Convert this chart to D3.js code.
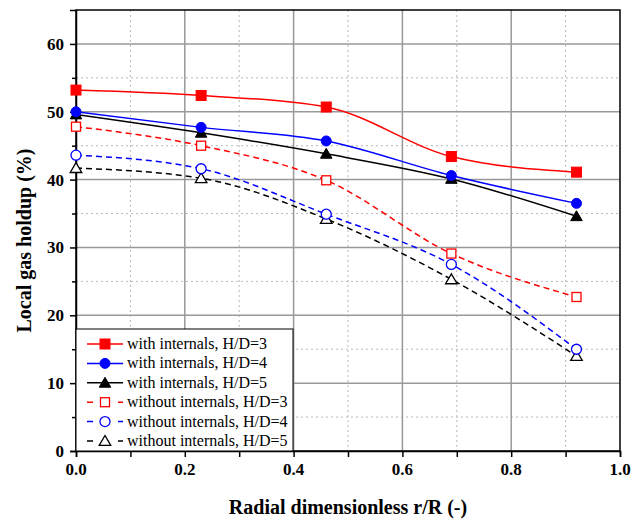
<!DOCTYPE html>
<html>
<head>
<meta charset="utf-8">
<script src="https://cdn.jsdelivr.net/npm/d3@7"></script>
<style>
  body { margin: 0; background: #fff; }
</style>
</head>
<body>
<svg id="chart" width="632" height="521"></svg>
<script>
// radial positions
const radial = [0, 0.23, 0.46, 0.69, 0.92];

// local gas holdup (%) per case
const withHD3 = [53.2, 52.4, 50.7, 43.4, 41.1];
const withHD4 = [50.0, 47.7, 45.7, 40.6, 36.5];
const withHD5 = [49.6, 46.9, 43.8, 40.1, 34.6];
const withoutHD3 = [47.8, 45.0, 39.9, 29.1, 22.7];
const withoutHD4 = [43.6, 41.6, 34.9, 27.5, 15.0];
const withoutHD5 = [41.7, 40.2, 34.2, 25.3, 14.0];

const seriesNames = [
  "with internals, H/D=3",
  "with internals, H/D=4",
  "with internals, H/D=5",
  "without internals, H/D=3",
  "without internals, H/D=4",
  "without internals, H/D=5"
];

const xTicks = [0, 0.2, 0.4, 0.6, 0.8, 1.0];
const yTicks = [0, 10, 20, 30, 40, 50, 60];

const series = [
  { name: seriesNames[0], values: withHD3, color: "#ff0000", shape: "square", filled: true },
  { name: seriesNames[1], values: withHD4, color: "#0000ff", shape: "circle", filled: true },
  { name: seriesNames[2], values: withHD5, color: "#000000", shape: "triangle", filled: true },
  { name: seriesNames[3], values: withoutHD3, color: "#ff0000", shape: "square", filled: false },
  { name: seriesNames[4], values: withoutHD4, color: "#0000ff", shape: "circle", filled: false },
  { name: seriesNames[5], values: withoutHD5, color: "#000000", shape: "triangle", filled: false }
];

const FONT = "'Liberation Serif', 'Times New Roman', Times, serif";
const svg = d3.select("#chart").attr("font-family", FONT);
const pLeft = 76, pRight = 620, pTop = 10, pBottom = 451;

const x = d3.scaleLinear().domain([0, 1]).range([pLeft, pRight]);
const y = d3.scaleLinear().domain([0, 65]).range([pBottom, pTop]);

// minor grid (dotted)
const g = svg.append("g");
g.selectAll(".vminor").data(d3.range(0.1, 1, 0.2)).enter().append("line")
  .attr("x1", d => x(d)).attr("x2", d => x(d)).attr("y1", pTop).attr("y2", pBottom)
  .attr("stroke", "#b8b8b8").attr("stroke-width", 1).attr("stroke-dasharray", "2,3");
g.selectAll(".hminor").data(d3.range(5, 65, 10)).enter().append("line")
  .attr("x1", pLeft).attr("x2", pRight).attr("y1", d => y(d)).attr("y2", d => y(d))
  .attr("stroke", "#b8b8b8").attr("stroke-width", 1).attr("stroke-dasharray", "2,3");
// major grid
g.selectAll(".vmajor").data(xTicks.slice(1, -1)).enter().append("line")
  .attr("x1", d => x(d)).attr("x2", d => x(d)).attr("y1", pTop).attr("y2", pBottom)
  .attr("stroke", "#999").attr("stroke-width", 1.5);
g.selectAll(".hmajor").data(yTicks.slice(1)).enter().append("line")
  .attr("x1", pLeft).attr("x2", pRight).attr("y1", d => y(d)).attr("y2", d => y(d))
  .attr("stroke", "#999").attr("stroke-width", 1.5);

// frame
svg.append("rect").attr("x", pLeft).attr("y", pTop)
  .attr("width", pRight - pLeft).attr("height", pBottom - pTop)
  .attr("fill", "none").attr("stroke", "#000").attr("stroke-width", 1.5);

// axes
const xAxis = svg.append("g").attr("transform", `translate(0,${pBottom})`)
  .call(d3.axisBottom(x).tickValues(d3.range(0, 1.01, 0.1)).tickSize(6).tickFormat(""));
xAxis.selectAll("path,line").attr("stroke", "#000").attr("stroke-width", 1.5);
svg.append("g").selectAll("text").data(xTicks).enter().append("text")
  .attr("x", d => x(d)).attr("y", pBottom + 24)
  .attr("text-anchor", "middle").attr("font-size", 17).attr("font-weight", "bold")
  .text(d => d3.format(".1f")(d));

const yAxisMajor = svg.append("g").attr("transform", `translate(${pLeft},0)`)
  .call(d3.axisLeft(y).tickValues(yTicks).tickSize(6).tickFormat(d3.format("d")))
  .attr("font-family", FONT).attr("font-size", 17).attr("font-weight", "bold");
yAxisMajor.selectAll("path,line").attr("stroke", "#000").attr("stroke-width", 1.5);
yAxisMajor.selectAll("text").attr("fill", "#000").attr("x", -12);
const yAxisMinor = svg.append("g").attr("transform", `translate(${pLeft},0)`)
  .call(d3.axisLeft(y).tickValues(d3.range(5, 65, 10)).tickSize(4).tickFormat(""));
yAxisMinor.selectAll("line").attr("stroke", "#000").attr("stroke-width", 1.5);
yAxisMinor.select("path").remove();

// axis titles
svg.append("text").attr("x", (pLeft + pRight) / 2).attr("y", 514)
  .attr("text-anchor", "middle").attr("font-size", 20).attr("font-weight", "bold")
  .text("Radial dimensionless r/R (-)");
svg.append("text").attr("transform", `translate(31,${(pTop + pBottom) / 2 + 10}) rotate(-90)`)
  .attr("text-anchor", "middle").attr("font-size", 20).attr("font-weight", "bold")
  .text("Local gas holdup (%)");

function drawMarker(sel, s, cx, cy) {
  const fill = s.filled ? s.color : "#fff";
  const sw = s.filled ? 1 : 1.3;
  if (s.shape === "square") {
    const a = s.filled ? 10 : 9;
    sel.append("rect").attr("x", cx - a / 2).attr("y", cy - a / 2).attr("width", a).attr("height", a)
      .attr("fill", fill).attr("stroke", s.color).attr("stroke-width", sw);
  } else if (s.shape === "circle") {
    sel.append("circle").attr("cx", cx).attr("cy", cy).attr("r", 5)
      .attr("fill", fill).attr("stroke", s.color).attr("stroke-width", sw);
  } else {
    const h = 5.5;
    sel.append("path")
      .attr("d", `M${cx},${cy - h}L${cx + h * 1.05},${cy + h * 0.8}L${cx - h * 1.05},${cy + h * 0.8}Z`)
      .attr("fill", fill).attr("stroke", s.color).attr("stroke-width", sw);
  }
}

const line = d3.line().x(d => x(d[0])).y(d => y(d[1])).curve(d3.curveMonotoneX);

// draw dashed first then solid
const order = [5, 4, 3, 2, 1, 0];
order.forEach(i => {
  const s = series[i];
  const pts = radial.map((r, j) => [r, s.values[j]]);
  svg.append("path").datum(pts).attr("d", line)
    .attr("fill", "none").attr("stroke", s.color).attr("stroke-width", 1.5)
    .attr("stroke-dasharray", s.filled ? null : "6,4");
});
order.forEach(i => {
  const s = series[i];
  const mg = svg.append("g");
  radial.forEach((r, j) => drawMarker(mg, s, x(r), y(s.values[j])));
});

// legend
const lg = svg.append("g");
lg.append("rect").attr("x", pLeft).attr("y", 329).attr("width", 217).attr("height", pBottom - 329)
  .attr("fill", "#fff").attr("stroke", "#000").attr("stroke-width", 1);
series.forEach((s, i) => {
  const ly = 344 + i * 19.4;
  lg.append("line").attr("x1", 87).attr("x2", 123).attr("y1", ly).attr("y2", ly)
    .attr("stroke", s.color).attr("stroke-width", 1.5)
    .attr("stroke-dasharray", s.filled ? null : "6,9.5");
  drawMarker(lg, s, 105, ly);
  lg.append("text").attr("x", 127).attr("y", ly + 5).attr("font-size", 16).text(s.name);
});
</script>
</body>
</html>
